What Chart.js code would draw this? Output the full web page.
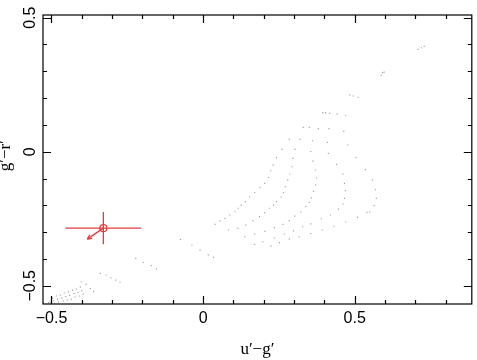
<!DOCTYPE html>
<html>
<head>
<meta charset="utf-8">
<script src="https://cdn.jsdelivr.net/npm/chart.js@4/dist/chart.umd.min.js"></script>
<style>
  body { margin: 0; background: #fff; }
  canvas { display: block; }
</style>
</head>
<body>
<canvas id="ccd" width="477" height="360"></canvas>
<script>
// model grid (u'-g', g'-r')
const gridUG = [
  0.395, 0.404, 0.418, 0.442, 0.470,
  0.330, 0.350, 0.380, 0.415, 0.464,
  0.284, 0.320, 0.361, 0.410, 0.477,
  0.260, 0.303, 0.355, 0.413, 0.504,
  0.242, 0.296, 0.362, 0.440, 0.535,
  0.231, 0.293, 0.370, 0.461, 0.558,
  0.223, 0.286, 0.374, 0.466, 0.568,
  0.216, 0.279, 0.371, 0.469, 0.571,
  0.203, 0.271, 0.364, 0.466, 0.564,
  0.188, 0.265, 0.357, 0.461, 0.549,
  0.170, 0.257, 0.350, 0.446, 0.540,
  0.154, 0.242, 0.339, 0.420, 0.509,
  0.139, 0.232, 0.322, 0.390, 0.470,
  0.126, 0.219, 0.302, 0.355, 0.431,
  0.116, 0.203, 0.284, 0.328, 0.393,
  0.105, 0.186, 0.263, 0.298, 0.355,
  0.088, 0.164, 0.235, 0.268, 0.317,
  0.072, 0.141, 0.204, 0.235, 0.284,
  0.056, 0.115, 0.170, 0.197, 0.252,
  0.039, 0.084, 0.137, 0.170, 0.224
];
const gridGR = [
  0.146, 0.146, 0.143, 0.141, 0.136,
  0.091, 0.091, 0.086, 0.086, 0.076,
  0.046, 0.046, 0.041, 0.035, 0.025,
  0.009, 0.009, 0.001, -0.006, -0.022,
  -0.022, -0.025, -0.035, -0.047, -0.067,
  -0.050, -0.056, -0.068, -0.083, -0.106,
  -0.071, -0.083, -0.098, -0.118, -0.142,
  -0.096, -0.106, -0.124, -0.145, -0.174,
  -0.118, -0.130, -0.148, -0.174, -0.201,
  -0.134, -0.152, -0.172, -0.195, -0.225,
  -0.152, -0.169, -0.189, -0.214, -0.226,
  -0.168, -0.186, -0.205, -0.236, -0.245,
  -0.186, -0.199, -0.225, -0.250, -0.262,
  -0.199, -0.211, -0.240, -0.269, -0.278,
  -0.211, -0.227, -0.257, -0.280, -0.292,
  -0.224, -0.242, -0.271, -0.295, -0.305,
  -0.236, -0.257, -0.283, -0.307, -0.317,
  -0.249, -0.274, -0.297, -0.322, -0.326,
  -0.259, -0.286, -0.307, -0.336, -0.339,
  -0.271, -0.292, -0.317, -0.346, -0.352
];

// sparse points along the diagonal sequence
const seqUG = [
  0.484, 0.495, 0.511,
  0.587, 0.592, 0.597,
  0.709, 0.720, 0.729,
  -0.075, -0.037, -0.010, 0.017, 0.034,
  -0.222, -0.197, -0.171, -0.154,
  -0.339, -0.320, -0.304, -0.288, -0.274,
  -0.402, -0.386, -0.372, -0.361,
  -0.497, -0.493, -0.490, -0.484, -0.480, -0.477, -0.471, -0.466, -0.461,
  -0.458, -0.453, -0.448, -0.444, -0.440, -0.435, -0.431, -0.426, -0.422,
  -0.418, -0.413, -0.408, -0.405, -0.400, -0.395,
  -0.505, -0.510, -0.500
];
const seqGR = [
  0.212, 0.208, 0.203,
  0.285, 0.295, 0.297,
  0.382, 0.388, 0.393,
  -0.327, -0.348, -0.367, -0.385, -0.394,
  -0.398, -0.413, -0.425, -0.437,
  -0.454, -0.460, -0.470, -0.479, -0.487,
  -0.485, -0.495, -0.510, -0.522,
  -0.546, -0.556, -0.565, -0.538, -0.550, -0.561, -0.535, -0.546, -0.557,
  -0.527, -0.540, -0.553, -0.523, -0.536, -0.550, -0.516, -0.529, -0.542,
  -0.512, -0.525, -0.538, -0.505, -0.518, -0.531,
  -0.560, -0.563, -0.555
];

// observed object with errors and reddening arrow
const obsUG = [-0.329];
const obsGR = [-0.285];
const obsErrUG = [0.125];
const obsErrGR = [0.060];
const arrowUG = [-0.329, -0.382];
const arrowGR = [-0.285, -0.326];

const xMajor = [-0.5, 0, 0.5];
const xMinor = [-0.4, -0.3, -0.2, -0.1, 0.1, 0.2, 0.3, 0.4, 0.6, 0.7, 0.8];
const yMajor = [-0.5, 0, 0.5];
const yMinor = [-0.4, -0.3, -0.2, -0.1, 0.1, 0.2, 0.3, 0.4];
const xLabels = ['\u22120.5', '0', '0.5'];
const yLabels = ['\u22120.5', '0', '0.5'];

const RED = '#e43c3c';

const framePlugin = {
  id: 'frame',
  afterDatasetsDraw(chart) {
    const ctx = chart.ctx, xs = chart.scales.x, ys = chart.scales.y;
    // error bars
    ctx.save();
    ctx.strokeStyle = RED;
    ctx.lineWidth = 1.3;
    for (let i = 0; i < obsUG.length; i++) {
      const cx = xs.getPixelForValue(obsUG[i]), cy = ys.getPixelForValue(obsGR[i]);
      ctx.beginPath();
      ctx.moveTo(xs.getPixelForValue(obsUG[i] - obsErrUG[i]), cy);
      ctx.lineTo(xs.getPixelForValue(obsUG[i] + obsErrUG[i]), cy);
      ctx.moveTo(cx, ys.getPixelForValue(obsGR[i] - obsErrGR[i]));
      ctx.lineTo(cx, ys.getPixelForValue(obsGR[i] + obsErrGR[i]));
      ctx.stroke();
    }
    // arrow head
    const x0 = xs.getPixelForValue(arrowUG[0]), y0 = ys.getPixelForValue(arrowGR[0]);
    const x1 = xs.getPixelForValue(arrowUG[1]), y1 = ys.getPixelForValue(arrowGR[1]);
    const a = Math.atan2(y1 - y0, x1 - x0);
    ctx.beginPath();
    ctx.moveTo(x1, y1);
    ctx.lineTo(x1 - 5 * Math.cos(a - 0.45), y1 - 5 * Math.sin(a - 0.45));
    ctx.moveTo(x1, y1);
    ctx.lineTo(x1 - 5 * Math.cos(a + 0.45), y1 - 5 * Math.sin(a + 0.45));
    ctx.stroke();
    ctx.restore();
  },
  afterDraw(chart) {
    const ctx = chart.ctx, a = chart.chartArea;
    const xs = chart.scales.x, ys = chart.scales.y;
    ctx.save();
    ctx.strokeStyle = '#000';
    ctx.lineWidth = 1.2;
    ctx.strokeRect(a.left, a.top, a.right - a.left, a.bottom - a.top);
    ctx.beginPath();
    const tickX = (v, len) => {
      const p = Math.round(xs.getPixelForValue(v)) + 0.5;
      ctx.moveTo(p, a.bottom); ctx.lineTo(p, a.bottom - len);
      ctx.moveTo(p, a.top); ctx.lineTo(p, a.top + len);
    };
    const tickY = (v, len) => {
      const p = Math.round(ys.getPixelForValue(v)) + 0.5;
      ctx.moveTo(a.left, p); ctx.lineTo(a.left + len, p);
      ctx.moveTo(a.right, p); ctx.lineTo(a.right - len, p);
    };
    xMajor.forEach(v => tickX(v, 8));
    xMinor.forEach(v => tickX(v, 4));
    yMajor.forEach(v => tickY(v, 8));
    yMinor.forEach(v => tickY(v, 4));
    ctx.stroke();

    ctx.fillStyle = '#000';
    ctx.font = '16px "Liberation Sans", Arial, sans-serif';
    ctx.textAlign = 'center';
    ctx.textBaseline = 'alphabetic';
    xMajor.forEach((v, i) => ctx.fillText(xLabels[i], xs.getPixelForValue(v), 323));
    yMajor.forEach((v, i) => {
      ctx.save();
      ctx.translate(35, ys.getPixelForValue(v));
      ctx.rotate(-Math.PI / 2);
      ctx.fillText(yLabels[i], 0, 0);
      ctx.restore();
    });

    ctx.font = '17px "Liberation Serif", "Times New Roman", serif';
    ctx.fillText('u\u2032\u2212g\u2032', (a.left + a.right) / 2, 354);
    ctx.save();
    ctx.translate(10, ys.getPixelForValue(0) + 4);
    ctx.rotate(-Math.PI / 2);
    ctx.fillText('g\u2032\u2212r\u2032', 0, 0);
    ctx.restore();
    ctx.restore();
  }
};

const toPts = (xs, ys) => xs.map((x, i) => ({ x: x, y: ys[i] }));

new Chart(document.getElementById('ccd'), {
  type: 'scatter',
  data: {
    datasets: [
      {
        data: toPts(gridUG, gridGR),
        pointStyle: 'rect',
        pointRadius: 0.8,
        backgroundColor: '#a0a0a0',
        borderWidth: 0
      },
      {
        data: toPts(seqUG, seqGR),
        pointStyle: 'rect',
        pointRadius: 0.8,
        backgroundColor: '#a0a0a0',
        borderWidth: 0
      },
      {
        type: 'line',
        data: toPts(arrowUG, arrowGR),
        borderColor: RED,
        borderWidth: 1.3,
        pointRadius: 0
      },
      {
        data: toPts(obsUG, obsGR),
        pointStyle: 'circle',
        pointRadius: 3.5,
        borderColor: RED,
        borderWidth: 1.2,
        backgroundColor: 'rgba(0,0,0,0)'
      }
    ]
  },
  options: {
    responsive: false,
    animation: false,
    layout: { padding: { left: 43, top: 15, right: 3, bottom: 56 } },
    plugins: { legend: { display: false }, tooltip: { enabled: false } },
    scales: {
      x: { type: 'linear', display: false, min: -0.528, max: 0.886 },
      y: { type: 'linear', display: false, min: -0.568, max: 0.51 }
    }
  },
  plugins: [framePlugin]
});
</script>
</body>
</html>
